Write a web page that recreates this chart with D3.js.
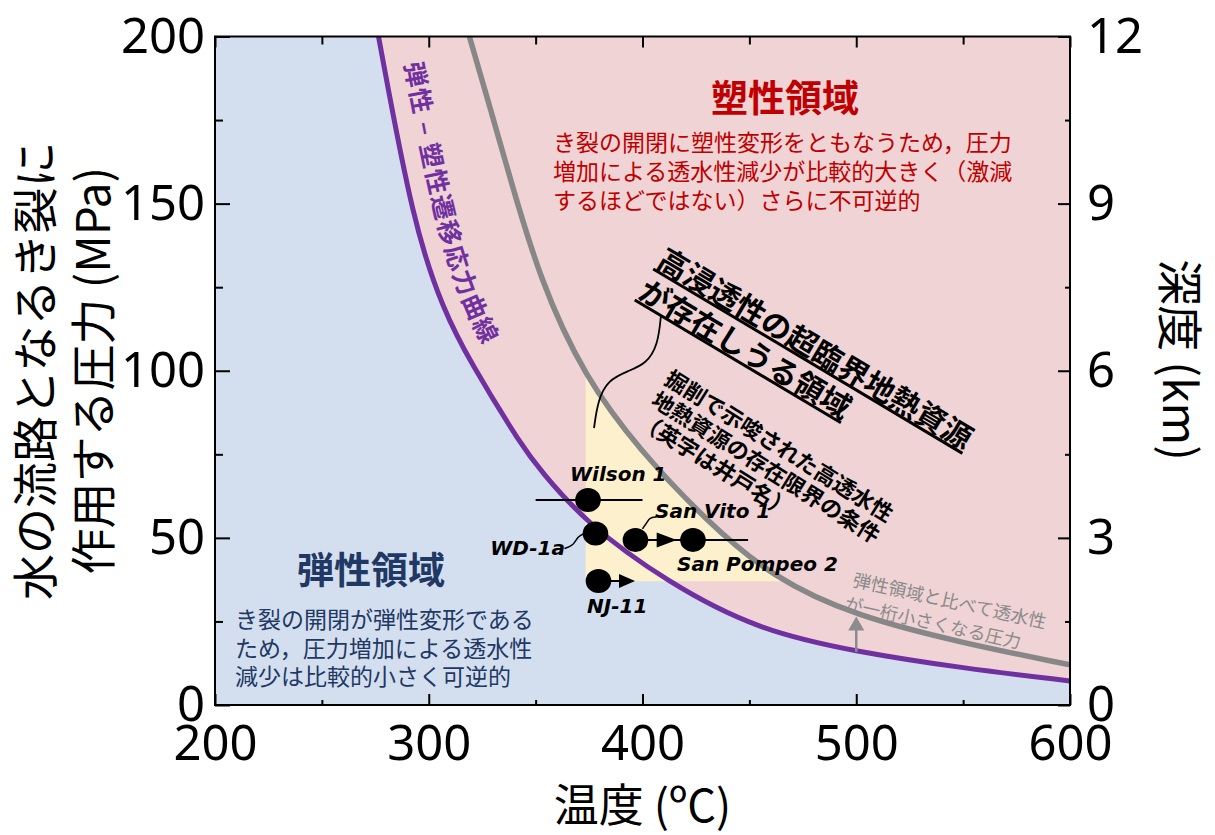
<!DOCTYPE html>
<html>
<head>
<meta charset="utf-8">
<script src="https://cdn.jsdelivr.net/npm/d3@7"></script>
<style>
  body { margin: 0; background: #fff; }
  svg text { font-family: "Noto Sans CJK JP", "Noto Sans", sans-serif; }
</style>
</head>
<body>
<div id="chart"></div>
<script>
// axis ticks
const tempTicks = [200, 300, 400, 500, 600];
const tempMinor = [250, 350, 450, 550];
const pressTicks = [0, 50, 100, 150, 200];
const pressMinor = [25, 75, 125, 175];
const depthTicks = [0, 3, 6, 9, 12];
const depthMinor = [1.5, 4.5, 7.5, 10.5];

// elastic-plastic transition curve (purple)
const elasticT = [276.5, 293, 307, 319, 344, 352, 373, 412, 454, 500, 550, 600];
const elasticP = [200, 143, 118, 103, 77, 70.5, 54.7, 36.5, 22.4, 15.9, 11, 7.2];
// permeability one order lower curve (gray)
const permT = [319, 329, 337, 352, 373, 399, 430, 461, 500, 550, 600];
const permP = [200, 178, 160, 127, 98, 76, 55, 38, 26.5, 18.5, 12];

// wells
const wellNames = ['Wilson 1', 'WD-1a', 'San Vito 1', 'San Pompeo 2', 'NJ-11'];
const wellT = [374.5, 378, 396.7, 423.6, 379.4];
const wellP = [61.3, 51.3, 49.4, 49.4, 37.1];

// yellow region limits
const zoneTmin = 373.4;
const zonePmin = 37;

const width = 1215;
const height = 835;

const svg = d3.select('#chart')
  .append('svg')
  .attr('width', width)
  .attr('height', height);

const x = d3.scaleLinear().domain([200, 600]).range([215, 1070]);
const y = d3.scaleLinear().domain([0, 200]).range([705, 36.5]);
const yd = d3.scaleLinear().domain([0, 12]).range([705, 36.5]);

const elastic = elasticT.map((t, i) => ({ T: t, P: elasticP[i] }));
const perm = permT.map((t, i) => ({ T: t, P: permP[i] }));
const smooth = d3.curveBasis;

const defs = svg.append('defs');
defs.append('clipPath').attr('id', 'plot')
  .append('rect')
  .attr('x', x(200)).attr('y', y(200))
  .attr('width', x(600) - x(200)).attr('height', y(0) - y(200));

defs.append('clipPath').attr('id', 'belowGray')
  .append('path')
  .attr('d', d3.area().x(d => x(d.T)).y0(y(0)).y1(d => y(d.P)).curve(smooth)(perm));

const plot = svg.append('g').attr('clip-path', 'url(#plot)');

// Regions
plot.append('rect')
  .attr('x', x(200)).attr('y', y(200))
  .attr('width', x(600) - x(200)).attr('height', y(0) - y(200))
  .attr('fill', '#d3dfef');

plot.append('path')
  .attr('d', d3.area().x(d => x(d.T)).y0(y(200)).y1(d => y(d.P)).curve(smooth)(elastic))
  .attr('fill', '#efd3d5');

plot.append('rect')
  .attr('clip-path', 'url(#belowGray)')
  .attr('x', x(zoneTmin)).attr('y', y(200))
  .attr('width', x(600) - x(zoneTmin)).attr('height', y(zonePmin) - y(200))
  .attr('fill', '#fdf0cd');

// Curves
const line = d3.line().x(d => x(d.T)).y(d => y(d.P)).curve(smooth);

plot.append('path')
  .attr('d', line(perm))
  .attr('fill', 'none')
  .attr('stroke', '#878787')
  .attr('stroke-width', 5.5);

plot.append('path')
  .attr('d', line(elastic))
  .attr('fill', 'none')
  .attr('stroke', '#7030a0')
  .attr('stroke-width', 5);

// Label along the purple curve
defs.append('path')
  .attr('id', 'purpleText')
  .attr('d', d3.line().x(d => x(d.T) + 21).y(d => y(d.P)).curve(smooth)(elastic));

svg.append('text')
  .attr('font-size', 25)
  .attr('font-weight', 700)
  .attr('letter-spacing', 1.5)
  .attr('fill', '#7030a0')
  .append('textPath')
  .attr('href', '#purpleText')
  .attr('startOffset', 28)
  .text('弾性 – 塑性遷移応力曲線');

// Gray arrow at 500 C
const aT = 500;
const aFrom = elasticP[elasticT.indexOf(aT)];
const aTo = permP[permT.indexOf(aT)];
const arrowHead = (tx, ty, len, half, dir) => {
  if (dir === 'right') return `M${tx},${ty}L${tx - len},${ty - half}L${tx - len},${ty + half}Z`;
  return `M${tx},${ty}L${tx - half},${ty + len}L${tx + half},${ty + len}Z`;
};
svg.append('line')
  .attr('x1', x(aT)).attr('x2', x(aT))
  .attr('y1', y(aFrom)).attr('y2', y(aTo) + 12)
  .attr('stroke', '#8c8c8c').attr('stroke-width', 2.5);
svg.append('path')
  .attr('d', arrowHead(x(aT), y(aTo), 14, 8, 'up'))
  .attr('fill', '#8c8c8c');

// Axes
const bottomMajor = d3.axisBottom(x).tickValues(tempTicks).tickSize(-11).tickPadding(20).tickSizeOuter(0);
const bottomMinor = d3.axisBottom(x).tickValues(tempMinor).tickSize(-5).tickFormat('').tickSizeOuter(0);
const topMajor = d3.axisTop(x).tickValues(tempTicks).tickSize(-11).tickFormat('').tickSizeOuter(0);
const topMinor = d3.axisTop(x).tickValues(tempMinor).tickSize(-8).tickFormat('').tickSizeOuter(0);
const leftMajor = d3.axisLeft(y).tickValues(pressTicks).tickSize(-15).tickPadding(10).tickSizeOuter(0);
const leftMinor = d3.axisLeft(y).tickValues(pressMinor).tickSize(-8).tickFormat('').tickSizeOuter(0);
const rightMajor = d3.axisRight(yd).tickValues(depthTicks).tickSize(-12).tickPadding(17).tickSizeOuter(0);
const rightMinor = d3.axisRight(yd).tickValues(depthMinor).tickSize(-5).tickFormat('').tickSizeOuter(0);

const addAxis = (axis, tx, ty) => {
  const g = svg.append('g').attr('transform', `translate(${tx},${ty})`).call(axis);
  g.select('.domain').remove();
  g.selectAll('.tick line').attr('stroke', '#000').attr('stroke-width', 2);
  g.selectAll('.tick text')
    .attr('fill', '#000')
    .style('font-family', '"Noto Sans", sans-serif')
    .attr('font-size', 49);
  return g;
};
addAxis(bottomMajor, 0, y(0));
addAxis(bottomMinor, 0, y(0));
addAxis(topMajor, 0, y(200));
addAxis(topMinor, 0, y(200));
addAxis(leftMajor, x(200), 0);
addAxis(leftMinor, x(200), 0);
addAxis(rightMajor, x(600), 0);
addAxis(rightMinor, x(600), 0);

svg.append('rect')
  .attr('x', x(200)).attr('y', y(200))
  .attr('width', x(600) - x(200)).attr('height', y(0) - y(200))
  .attr('fill', 'none')
  .attr('stroke', '#000')
  .attr('stroke-width', 2);

// Axis titles
svg.append('text')
  .attr('x', (x(200) + x(600)) / 2)
  .attr('y', 822)
  .attr('text-anchor', 'middle')
  .attr('font-size', 45)
  .text('温度 (ºC)');

const yTitle = svg.append('g')
  .attr('transform', `translate(0,${(y(0) + y(200)) / 2}) rotate(-90)`);
yTitle.append('text')
  .attr('x', 0).attr('y', 32)
  .attr('text-anchor', 'middle')
  .attr('dominant-baseline', 'central')
  .attr('font-size', 46)
  .text('水の流路となるき裂に');
yTitle.append('text')
  .attr('x', 0).attr('y', 90)
  .attr('text-anchor', 'middle')
  .attr('dominant-baseline', 'central')
  .attr('font-size', 46)
  .text('作用する圧力 (MPa)');

svg.append('text')
  .attr('transform', `translate(1183,360) rotate(90)`)
  .attr('text-anchor', 'middle')
  .attr('dominant-baseline', 'central')
  .attr('font-size', 46)
  .text('深度 (km)');

// Well markers
const bar = (t1, t2, p) => svg.append('line')
  .attr('x1', x(t1)).attr('x2', x(t2))
  .attr('y1', y(p)).attr('y2', y(p))
  .attr('stroke', '#000').attr('stroke-width', 2);

bar(350, 400, wellP[0]);
bar(wellT[2], 449.4, wellP[2]);
bar(wellT[4], 392, wellP[4]);

svg.append('path')
  .attr('d', arrowHead(x(416), y(wellP[2]), 20, 7.5, 'right'))
  .attr('fill', '#000');
svg.append('path')
  .attr('d', arrowHead(x(396.5), y(wellP[4]), 16, 7, 'right'))
  .attr('fill', '#000');

svg.selectAll('ellipse.well')
  .data(wellNames)
  .enter()
  .append('ellipse')
  .attr('class', 'well')
  .attr('cx', (d, i) => x(wellT[i]))
  .attr('cy', (d, i) => y(wellP[i]))
  .attr('rx', 12.8)
  .attr('ry', 12)
  .attr('fill', '#000');

// connectors
const curvy = d3.line().curve(d3.curveBasis);
const wdx = x(wellT[1]), wdy = y(wellP[1]);
svg.append('path')
  .attr('d', curvy([[wdx - 31, wdy + 15], [wdx - 22, wdy + 12], [wdx - 18, wdy + 3], [wdx - 11, wdy]]))
  .attr('fill', 'none').attr('stroke', '#000').attr('stroke-width', 1.5);
const svx = x(wellT[2]), svy = y(wellP[2]);
svg.append('path')
  .attr('d', curvy([[svx + 7, svy - 11], [svx + 12, svy - 18], [svx + 14, svy - 22], [svx + 21, svy - 23]]))
  .attr('fill', 'none').attr('stroke', '#000').attr('stroke-width', 1.5);

const wellLabel = (txt, lx, ly, anchor) => svg.append('text')
  .attr('x', lx).attr('y', ly)
  .attr('text-anchor', anchor)
  .style('font-family', '"DejaVu Sans", sans-serif')
  .attr('font-size', 20)
  .attr('font-weight', 700)
  .attr('font-style', 'italic')
  .text(txt);

wellLabel(wellNames[0], 570, 481, 'start');
wellLabel(wellNames[1], 565, 555, 'end');
wellLabel(wellNames[2], 655, 518, 'start');
wellLabel(wellNames[3], 677, 571, 'start');
wellLabel(wellNames[4], 587, 613, 'start');

// Region texts
svg.append('text')
  .attr('x', 785).attr('y', 112)
  .attr('text-anchor', 'middle')
  .attr('font-size', 37)
  .attr('font-weight', 700)
  .attr('fill', '#c00000')
  .text('塑性領域');

const redLines = [
  'き裂の開閉に塑性変形をともなうため，圧力',
  '増加による透水性減少が比較的大きく（激減',
  'するほどではない）さらに不可逆的'
];
svg.append('g').selectAll('text')
  .data(redLines)
  .enter()
  .append('text')
  .attr('x', 553)
  .attr('y', (d, i) => 151 + i * 28.8)
  .attr('font-size', 23)
  .attr('fill', '#c00000')
  .text(d => d);

svg.append('text')
  .attr('x', 371).attr('y', 584)
  .attr('text-anchor', 'middle')
  .attr('font-size', 37)
  .attr('font-weight', 700)
  .attr('fill', '#1f3864')
  .text('弾性領域');

const blueLines = [
  'き裂の開閉が弾性変形である',
  'ため，圧力増加による透水性',
  '減少は比較的小さく可逆的'
];
svg.append('g').selectAll('text')
  .data(blueLines)
  .enter()
  .append('text')
  .attr('x', 235)
  .attr('y', (d, i) => 628 + i * 28.5)
  .attr('font-size', 23)
  .attr('fill', '#1f3864')
  .text(d => d);

// Supercritical annotation
const big = svg.append('g').attr('transform', 'translate(655,266) rotate(30.8)');
['高浸透性の超臨界地熱資源', 'が存在しうる領域'].forEach((t, i) => {
  big.append('text')
    .attr('x', 0).attr('y', i * 36)
    .attr('font-size', 30)
    .attr('font-weight', 700)
    .style('text-decoration', 'underline')
    .text(t);
});

svg.append('path')
  .attr('d', curvy([[661, 315], [658, 345], [646, 364], [628, 371], [608, 380], [598, 400], [594, 428]]))
  .attr('fill', 'none').attr('stroke', '#000').attr('stroke-width', 1.8);

const small = svg.append('g').attr('transform', 'translate(663,383) rotate(32)');
['掘削で示唆された高透水性', '地熱資源の存在限界の条件', '（英字は井戸名）'].forEach((t, i) => {
  small.append('text')
    .attr('x', 0).attr('y', i * 25)
    .attr('font-size', 22)
    .attr('font-weight', 700)
    .text(t);
});

const note = svg.append('g').attr('transform', 'translate(852,586) rotate(12.5)');
['弾性領域と比べて透水性', 'が一桁小さくなる圧力'].forEach((t, i) => {
  note.append('text')
    .attr('x', i * -3).attr('y', i * 25)
    .attr('font-size', 18)
    .attr('fill', '#8a8a8a')
    .text(t);
});
</script>
</body>
</html>
